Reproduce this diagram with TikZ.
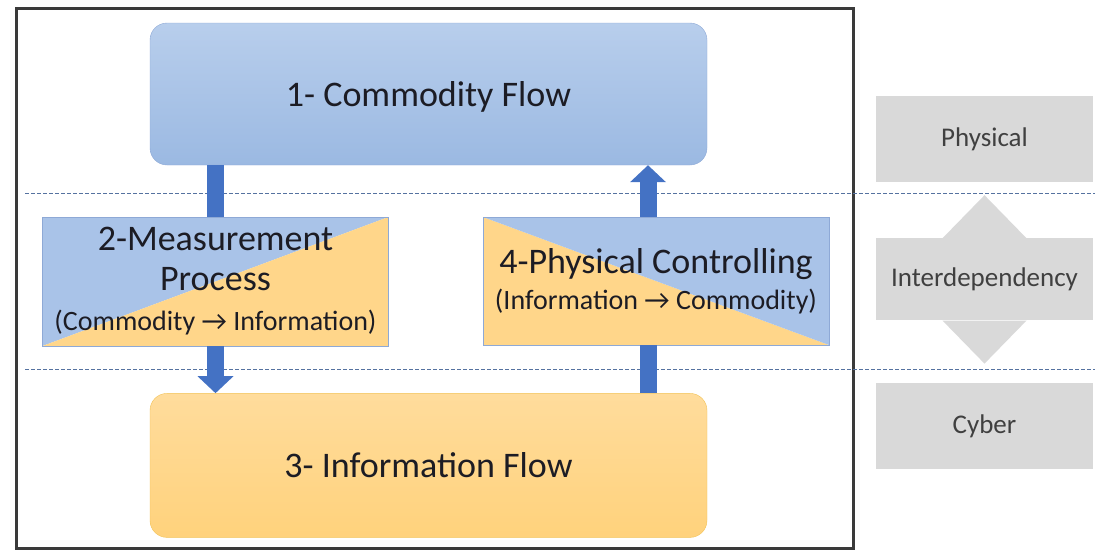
\documentclass[tikz,border=0pt]{standalone}
\usepackage{fontspec}
\setmainfont{Carlito}
\usetikzlibrary{arrows.meta, positioning, calc}
\definecolor{cpsblue}{HTML}{A9C3E8}
\definecolor{cpsbluetop}{HTML}{B8CEEC}
\definecolor{cpsbluebot}{HTML}{9BB9E2}
\definecolor{cpsblueline}{HTML}{8EA9D6}
\definecolor{cpsorange}{HTML}{FFD68A}
\definecolor{cpsorangetop}{HTML}{FFDC9C}
\definecolor{cpsorangebot}{HTML}{FFD27C}
\definecolor{cpsorangeline}{HTML}{F2C255}
\definecolor{cpsarrow}{HTML}{4472C4}
\definecolor{cpsgray}{HTML}{D9D9D9}
\definecolor{cpsdash}{HTML}{5572A0}
\definecolor{cpsframe}{HTML}{3A3A3A}
\definecolor{cpstext}{HTML}{1C1C24}
\newcommand{\flowsub}[1]{{\fontsize{28}{32}\selectfont #1}}

\begin{document}
\begin{tikzpicture}[
    x=1pt, y=-1pt,
    node distance=50pt,
    flowbox/.style={rectangle, rounded corners=17pt, thin, minimum width=557pt, minimum height=142pt, inner sep=0pt, text depth=0pt, text=cpstext, font=\fontsize{36}{40}\selectfont},
    commoditybox/.style={flowbox, draw=cpsblueline, top color=cpsbluetop, bottom color=cpsbluebot},
    infobox/.style={flowbox, draw=cpsorangeline, top color=cpsorangetop, bottom color=cpsorangebot},
    splitbox/.style={rectangle, draw=cpsblueline, thin, minimum width=346pt, minimum height=129pt, inner sep=0pt, align=center, text=cpstext, font=\fontsize{36}{40}\selectfont},
    measurebox/.style={splitbox, path picture={
        \fill[cpsblue] (path picture bounding box.south west) -- (path picture bounding box.north east) -- (path picture bounding box.north west) -- cycle;
        \fill[cpsorange] (path picture bounding box.south west) -- (path picture bounding box.south east) -- (path picture bounding box.north east) -- cycle;}},
    controlbox/.style={splitbox, path picture={
        \fill[cpsorange] (path picture bounding box.north west) -- (path picture bounding box.south east) -- (path picture bounding box.south west) -- cycle;
        \fill[cpsblue] (path picture bounding box.north west) -- (path picture bounding box.north east) -- (path picture bounding box.south east) -- cycle;}},
    layerbox/.style={rectangle, fill=cpsgray, minimum width=217pt, minimum height=86pt, inner sep=0pt, text=black!75, font=\fontsize{27}{32}\selectfont},
    barrow/.style={line width=17pt, cpsarrow},
    headarrow/.style={barrow, -{Triangle[width=35pt, length=17pt]}},
    layerline/.style={cpsdash, thin, dash pattern=on 4pt off 2pt}
]
\useasboundingbox (0,0) rectangle (1095,550);

% frame and layer separators
\draw[cpsframe, line width=3pt] (16,8) rectangle (853,548);
\draw[layerline] (25,193) -- (1095,193);
\draw[layerline] (25,369) -- (1095,369);

% flows
\node[commoditybox] (commodity) at (428.5,94) {1- Commodity Flow};
\node[infobox, minimum height=144pt, below=228pt of commodity] (information) {3- Information Flow};
\node[measurebox] (measurement) at (215.5,281.5) {2-Measurement\\Process\\\flowsub{(Commodity → Information)}};
\node[controlbox, minimum height=128pt] (controlling) at (656,281) {4-Physical Controlling\\[-4pt]\flowsub{(Information → Commodity)}};

\coordinate (ctrlbot) at ([xshift=-8pt]controlling.south);
\coordinate (ctrltop) at ([xshift=-8pt]controlling.north);

\draw[barrow] (measurement.north |- commodity.south) -- (measurement.north);
\draw[headarrow] (measurement.south) -- (measurement.south |- information.north);
\draw[barrow] (ctrlbot |- information.north) -- (ctrlbot);
\draw[headarrow] (ctrltop) -- (ctrltop |- commodity.south);

% layers
\node[layerbox] (physical) at (984.5,139) {Physical};
\node[layerbox, minimum height=82pt, below=56pt of physical] (interdep) {Interdependency};
\node[layerbox, below=62pt of interdep] (cyber) {Cyber};

\fill[cpsgray] ([xshift=-42pt]interdep.north) -- ([xshift=42pt]interdep.north) -- ([yshift=43pt]interdep.north) -- cycle;
\fill[cpsgray] ([xshift=-42pt]interdep.south) -- ([xshift=42pt]interdep.south) -- ([yshift=-43pt]interdep.south) -- cycle;

\end{tikzpicture}
\end{document}
